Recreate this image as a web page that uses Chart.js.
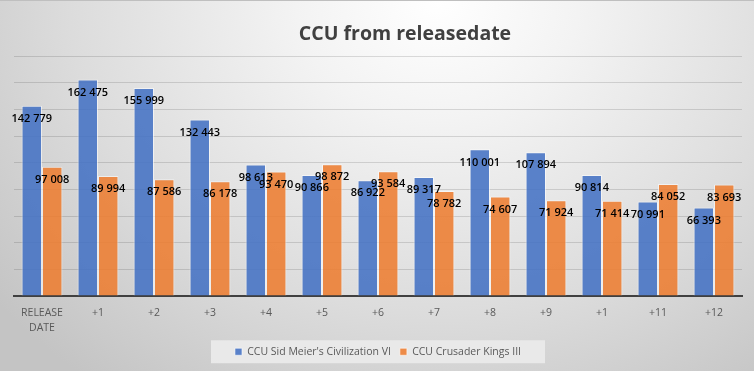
<!DOCTYPE html>
<html lang="en">
<head>
  <meta charset="UTF-8" />
  <title>CCU from releasedate</title>
  <script src="https://cdn.jsdelivr.net/npm/chart.js"></script>
  <style>
    html, body {
      margin: 0;
      padding: 0;
    }
    #wrap {
      position: relative;
      width: 754px;
      height: 371px;
      box-sizing: border-box;
      border-top: 1px solid #bfbfbf;
      background: radial-gradient(ellipse 75% 130% at 58% 0%, #ffffff 0%, #f3f3f3 25%, #dcdcdc 65%, #c4c4c4 100%);
    }
    canvas {
      display: block;
    }
  </style>
</head>
<body>
  <div id="wrap">
    <canvas id="ccuChart" width="754" height="370"></canvas>
  </div>

  <script>
    const categories = [["RELEASE", "DATE"], "+1", "+2", "+3", "+4", "+5", "+6", "+7", "+8", "+9", "+1", "+11", "+12"];
    const civValues = [142779, 162475, 155999, 132443, 98613, 90866, 86922, 89317, 110001, 107894, 90814, 70991, 66393];
    const ckValues = [97008, 89994, 87586, 86178, 93470, 98872, 93584, 78782, 74607, 71924, 71414, 84052, 83693];
    const seriesNames = ["CCU Sid Meier's Civilization VI", "CCU Crusader Kings III"];

    const fmt = v => String(v).replace(/\B(?=(\d{3})+(?!\d))/g, " ");

    // title, legend box and value labels drawn by hand
    const decor = {
      id: "decor",
      beforeDraw(chart) {
        const c = chart.ctx;
        const hb = chart.legend.legendHitBoxes[0];
        const mid = hb.top + hb.height / 2;
        c.save();
        c.fillStyle = "rgba(235,235,235,0.9)";
        c.fillRect(211, mid - 11.5, 334, 23);
        c.restore();
      },
      afterDatasetsDraw(chart) {
        const c = chart.ctx;
        c.save();
        c.font = "600 11px 'Open Sans'";
        c.fillStyle = "#000";
        c.textAlign = "center";
        c.textBaseline = "middle";
        chart.data.datasets.forEach((ds, i) => {
          chart.getDatasetMeta(i).data.forEach((bar, j) => {
            c.fillText(fmt(ds.data[j]), bar.x, bar.y + 13);
          });
        });
        c.font = "700 19.5px 'Open Sans'";
        c.fillStyle = "#404040";
        c.fillText("CCU from releasedate", 405, 33);
        c.restore();
      }
    };

    new Chart(document.getElementById("ccuChart"), {
      type: "bar",
      data: {
        labels: categories,
        datasets: [
          {
            label: seriesNames[0],
            data: civValues,
            backgroundColor: "rgba(68,114,196,0.88)",
            borderColor: "rgba(255,255,255,0.55)",
            borderWidth: 1
          },
          {
            label: seriesNames[1],
            data: ckValues,
            backgroundColor: "rgba(237,125,49,0.88)",
            borderColor: "rgba(255,255,255,0.55)",
            borderWidth: 1
          }
        ]
      },
      options: {
        responsive: false,
        animation: false,
        layout: { padding: { left: 14, right: 12, top: 55, bottom: 4 } },
        datasets: {
          bar: { categoryPercentage: 0.73, barPercentage: 1.0 }
        },
        scales: {
          x: {
            grid: { display: false },
            border: { color: "#404040", width: 2 },
            ticks: {
              color: "#595959",
              font: { family: "Open Sans", size: 10.5, lineHeight: 1.4 },
              padding: 2,
              maxRotation: 0
            }
          },
          y: {
            min: 0,
            max: 180000,
            ticks: { display: false, stepSize: 20000 },
            grid: { color: "rgba(0,0,0,0.13)", drawTicks: false },
            border: { display: false }
          }
        },
        plugins: {
          title: { display: false },
          tooltip: { enabled: false },
          legend: {
            position: "bottom",
            labels: {
              color: "#595959",
              font: { family: "Open Sans", size: 10.5 },
              boxWidth: 7,
              boxHeight: 7,
              padding: 9
            }
          }
        }
      },
      plugins: [decor]
    });
  </script>
</body>
</html>
